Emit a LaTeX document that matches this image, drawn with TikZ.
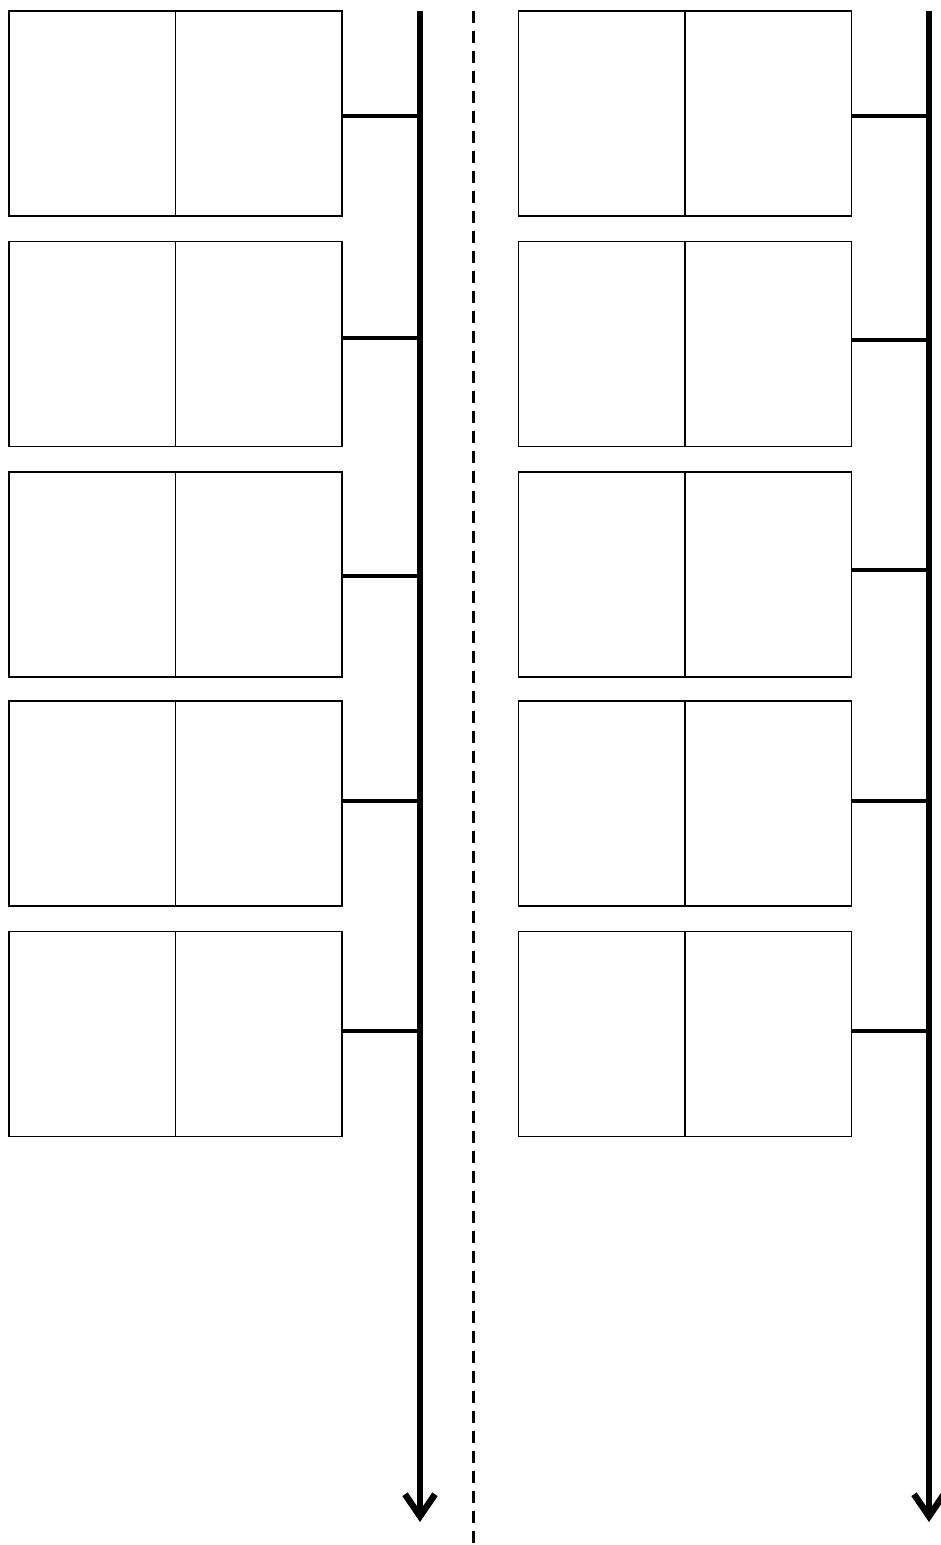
\documentclass[tikz,border=0pt]{standalone}
\usetikzlibrary{arrows.meta}
\tikzset{
        cell_box/.style={draw=black, line width=1.3pt, minimum width=333pt,
                         minimum height=205pt, inner sep=0pt, outer sep=0pt},
        cell_split/.style={draw=black, line width=1.3pt},
        bus_line/.style={draw=black, line width=5.5pt,
                         -{Straight Barb[length=22pt,width=30pt,line width=6.5pt]}},
        tap_line/.style={draw=black, line width=3.5pt},
        sep_line/.style={draw=black, line width=3pt, dash pattern=on 12pt off 8pt}
    }

\begin{document}
\begin{tikzpicture}[x=1pt, y=-1pt]
    \useasboundingbox (0, 0) rectangle (940, 1545);
    % left column
    \begin{scope}
        \node[cell_box] (lb1) at (175.5, 113.5) {};
        \node[cell_box] (lb2) at (175.5, 344) {};
        \node[cell_box] (lb3) at (175.5, 574.5) {};
        \node[cell_box] (lb4) at (175.5, 803.5) {};
        \node[cell_box] (lb5) at (175.5, 1034) {};
        \draw[cell_split] (lb1.north) -- (lb1.south);
        \draw[cell_split] (lb2.north) -- (lb2.south);
        \draw[cell_split] (lb3.north) -- (lb3.south);
        \draw[cell_split] (lb4.north) -- (lb4.south);
        \draw[cell_split] (lb5.north) -- (lb5.south);
        \coordinate (lbus_top) at (420, 11);
        \coordinate (lbus_end) at (420, 1522);
        \draw[bus_line] (lbus_top) -- (lbus_end);
        \draw[tap_line] ([yshift=-2.5pt]lb1.east) -- ([yshift=-2.5pt]lb1.east -| lbus_top);
        \draw[tap_line] ([yshift=6pt]lb2.east) -- ([yshift=6pt]lb2.east -| lbus_top);
        \draw[tap_line] ([yshift=-1.5pt]lb3.east) -- ([yshift=-1.5pt]lb3.east -| lbus_top);
        \draw[tap_line] ([yshift=2.5pt]lb4.east) -- ([yshift=2.5pt]lb4.east -| lbus_top);
        \draw[tap_line] ([yshift=3pt]lb5.east) -- ([yshift=3pt]lb5.east -| lbus_top);
    \end{scope}
    % divider
    \coordinate (sep_top) at (473, 11);
    \coordinate (sep_end) at (473, 1545);
    \draw[sep_line] (sep_top) -- (sep_end);
    % right column
    \begin{scope}
        \node[cell_box] (rb1) at (685, 113.5) {};
        \node[cell_box] (rb2) at (685, 344) {};
        \node[cell_box] (rb3) at (685, 574.5) {};
        \node[cell_box] (rb4) at (685, 803.5) {};
        \node[cell_box] (rb5) at (685, 1034) {};
        \draw[cell_split] (rb1.north) -- (rb1.south);
        \draw[cell_split] (rb2.north) -- (rb2.south);
        \draw[cell_split] (rb3.north) -- (rb3.south);
        \draw[cell_split] (rb4.north) -- (rb4.south);
        \draw[cell_split] (rb5.north) -- (rb5.south);
        \coordinate (rbus_top) at (929, 11);
        \coordinate (rbus_end) at (929, 1522);
        \draw[bus_line] (rbus_top) -- (rbus_end);
        \draw[tap_line] ([yshift=-2.5pt]rb1.east) -- ([yshift=-2.5pt]rb1.east -| rbus_top);
        \draw[tap_line] ([yshift=4pt]rb2.east) -- ([yshift=4pt]rb2.east -| rbus_top);
        \draw[tap_line] ([yshift=4.5pt]rb3.east) -- ([yshift=4.5pt]rb3.east -| rbus_top);
        \draw[tap_line] ([yshift=2.5pt]rb4.east) -- ([yshift=2.5pt]rb4.east -| rbus_top);
        \draw[tap_line] ([yshift=3pt]rb5.east) -- ([yshift=3pt]rb5.east -| rbus_top);
    \end{scope}
\end{tikzpicture}
\end{document}
